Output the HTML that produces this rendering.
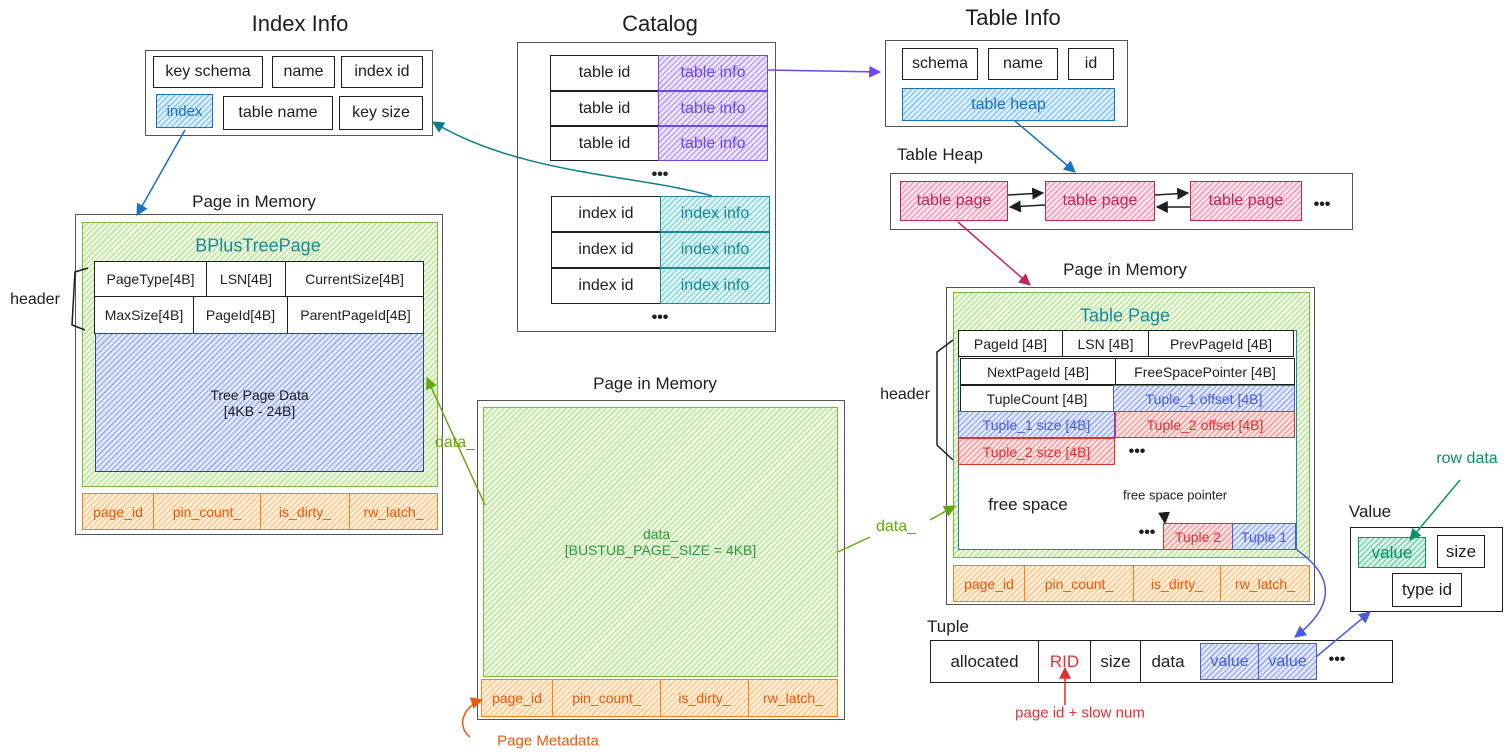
<!DOCTYPE html>
<html><head><meta charset="utf-8"><style>
body{margin:0;width:1512px;height:756px;background:#fff;position:relative;overflow:hidden;font-family:"Liberation Sans",sans-serif;color:#1e1e1e}
.a{position:absolute;box-sizing:border-box;display:flex;align-items:center;justify-content:center;white-space:nowrap;text-align:center}
.b{border:1.6px solid #1e1e1e;background:#fff;font-size:16px}
.fr{border:1.4px solid #555;background:transparent}
.t{position:absolute;white-space:nowrap;transform:translate(-50%,-50%);font-size:16px}
.h{font-size:22px}
.g{background:repeating-linear-gradient(-45deg,#c0e4a0 0 1.5px,#eef8e4 1.5px 4px);border:1.8px solid #7ab640}
.bl{background:repeating-linear-gradient(-45deg,#9db0f0 0 1.5px,#e4eafc 1.5px 4px);border:1.8px solid #4a5ce0;color:#4a5ce0;font-size:14px}
.pu{background:repeating-linear-gradient(-45deg,#b9a4f2 0 1.5px,#ede6fd 1.5px 4px);border:1.8px solid #7048e8;color:#7048e8;font-size:16px}
.te{background:repeating-linear-gradient(-45deg,#8ed8dc 0 1.5px,#e0f6f7 1.5px 4px);border:1.8px solid #1a8a9a;color:#1a8a9a;font-size:16px}
.lb{background:repeating-linear-gradient(-45deg,#8cc8f8 0 1.5px,#dff0fe 1.5px 4px);border:1.8px solid #1971c2;color:#1971c2;font-size:16px}
.pk{background:repeating-linear-gradient(-45deg,#f2a0bc 0 1.5px,#fde4ec 1.5px 4px);border:1.8px solid #c2255c;color:#c2255c;font-size:16px}
.or{background:repeating-linear-gradient(-45deg,#ffc890 0 1.5px,#fff0dc 1.5px 4px);border:1.8px solid #fd7e14;color:#e8590c;font-size:14px}
.rd{background:repeating-linear-gradient(-45deg,#f4a0a0 0 1.5px,#fde4e4 1.5px 4px);border:1.8px solid #e03131;color:#e03131;font-size:14px}
.vg{background:repeating-linear-gradient(-45deg,#80d4b0 0 1.5px,#dcf4ea 1.5px 4px);border:1.8px solid #099268;color:#099268;font-size:17px}
.s{font-size:14px}
</style></head><body>

<!-- Index Info -->
<div class="t h" style="left:300px;top:24px">Index Info</div>
<div class="a fr" style="left:145px;top:50px;width:288px;height:86px"></div>
<div class="a b" style="left:153px;top:56px;width:110px;height:32px">key schema</div>
<div class="a b" style="left:272px;top:56px;width:63px;height:32px">name</div>
<div class="a b" style="left:341px;top:56px;width:82px;height:32px">index id</div>
<div class="a lb" style="left:156px;top:94px;width:57px;height:34px;font-size:15px">index</div>
<div class="a b" style="left:223px;top:96px;width:110px;height:34px">table name</div>
<div class="a b" style="left:339px;top:96px;width:84px;height:34px">key size</div>

<!-- Catalog -->
<div class="t h" style="left:660px;top:24px">Catalog</div>
<div class="a fr" style="left:517px;top:42px;width:259px;height:290px"></div>
<div class="a b" style="left:550px;top:55px;width:109px;height:36px">table id</div>
<div class="a pu" style="left:658px;top:55px;width:110px;height:36px">table info</div>
<div class="a b" style="left:550px;top:91px;width:109px;height:35px">table id</div>
<div class="a pu" style="left:658px;top:91px;width:110px;height:35px">table info</div>
<div class="a b" style="left:550px;top:126px;width:109px;height:35px">table id</div>
<div class="a pu" style="left:658px;top:126px;width:110px;height:35px">table info</div>
<div class="t" style="left:660px;top:175px;font-weight:bold">•••</div>
<div class="a b" style="left:551px;top:196px;width:110px;height:36px">index id</div>
<div class="a te" style="left:660px;top:196px;width:110px;height:36px">index info</div>
<div class="a b" style="left:551px;top:232px;width:110px;height:36px">index id</div>
<div class="a te" style="left:660px;top:232px;width:110px;height:36px">index info</div>
<div class="a b" style="left:551px;top:268px;width:110px;height:36px">index id</div>
<div class="a te" style="left:660px;top:268px;width:110px;height:36px">index info</div>
<div class="t" style="left:660px;top:318px;font-weight:bold">•••</div>

<!-- Table Info -->
<div class="t h" style="left:1013px;top:18px">Table Info</div>
<div class="a fr" style="left:885px;top:40px;width:243px;height:87px"></div>
<div class="a b" style="left:902px;top:48px;width:76px;height:32px">schema</div>
<div class="a b" style="left:988px;top:48px;width:70px;height:32px">name</div>
<div class="a b" style="left:1068px;top:48px;width:46px;height:32px">id</div>
<div class="a lb" style="left:902px;top:88px;width:213px;height:33px">table heap</div>

<!-- Table Heap -->
<div class="t" style="left:940px;top:155px;font-size:17px">Table Heap</div>
<div class="a fr" style="left:890px;top:173px;width:463px;height:57px"></div>
<div class="a pk" style="left:900px;top:181px;width:108px;height:40px">table page</div>
<div class="a pk" style="left:1045px;top:181px;width:110px;height:40px">table page</div>
<div class="a pk" style="left:1190px;top:181px;width:112px;height:40px">table page</div>
<div class="t" style="left:1322px;top:205px;font-weight:bold">•••</div>

<!-- Left page in memory -->
<div class="t" style="left:254px;top:202px;font-size:17px">Page in Memory</div>
<div class="a fr" style="left:75px;top:214px;width:368px;height:321px"></div>
<div class="a g" style="left:82px;top:222px;width:356px;height:265px"></div>
<div class="t" style="left:258px;top:246px;font-size:18px;color:#1a8a9a">BPlusTreePage</div>
<div class="a b s" style="left:94px;top:261px;width:113px;height:36px">PageType[4B]</div>
<div class="a b s" style="left:206px;top:261px;width:80px;height:36px">LSN[4B]</div>
<div class="a b s" style="left:285px;top:261px;width:139px;height:36px">CurrentSize[4B]</div>
<div class="a b s" style="left:94px;top:296px;width:100px;height:38px">MaxSize[4B]</div>
<div class="a b s" style="left:193px;top:296px;width:95px;height:38px">PageId[4B]</div>
<div class="a b s" style="left:287px;top:296px;width:137px;height:38px">ParentPageId[4B]</div>
<div class="a bl" style="left:95px;top:333px;width:329px;height:139px;border-color:#2a4d6e;color:#1e1e1e;flex-direction:column;font-size:14px">Tree Page Data<br>[4KB - 24B]</div>
<div class="a or" style="left:82px;top:493px;width:72px;height:37px">page_id</div>
<div class="a or" style="left:153px;top:493px;width:108px;height:37px">pin_count_</div>
<div class="a or" style="left:260px;top:493px;width:90px;height:37px">is_dirty_</div>
<div class="a or" style="left:349px;top:493px;width:89px;height:37px">rw_latch_</div>
<div class="t" style="left:35px;top:300px;font-size:16px">header</div>

<!-- Middle page -->
<div class="t" style="left:655px;top:384px;font-size:17px">Page in Memory</div>
<div class="a fr" style="left:477px;top:400px;width:368px;height:320px"></div>
<div class="a g" style="left:483px;top:407px;width:355px;height:270px;color:#2e9a40;font-size:14px;flex-direction:column">data_<br>[BUSTUB_PAGE_SIZE = 4KB]</div>
<div class="a or" style="left:481px;top:679px;width:72px;height:38px">page_id</div>
<div class="a or" style="left:552px;top:679px;width:109px;height:38px">pin_count_</div>
<div class="a or" style="left:660px;top:679px;width:89px;height:38px">is_dirty_</div>
<div class="a or" style="left:748px;top:679px;width:90px;height:38px">rw_latch_</div>
<div class="t" style="left:548px;top:741px;color:#e8590c;font-size:15px">Page Metadata</div>
<div class="t" style="left:455px;top:443px;color:#66a80f;font-size:16px">data_</div>
<div class="t" style="left:896px;top:527px;color:#66a80f;font-size:16px">data_</div>

<!-- Right page -->
<div class="t" style="left:1125px;top:270px;font-size:17px">Page in Memory</div>
<div class="a fr" style="left:946px;top:287px;width:369px;height:318px"></div>
<div class="a g" style="left:953px;top:292px;width:357px;height:266px"></div>
<div class="t" style="left:1125px;top:316px;font-size:18px;color:#1a8a9a">Table Page</div>
<div class="a" style="left:958px;top:330px;width:339px;height:220px;background:#fff;border:1.6px solid #1a8a9a"></div>
<div class="a b s" style="left:958px;top:330px;width:105px;height:27px">PageId [4B]</div>
<div class="a b s" style="left:1062px;top:330px;width:87px;height:27px">LSN [4B]</div>
<div class="a b s" style="left:1148px;top:330px;width:146px;height:27px">PrevPageId [4B]</div>
<div class="a b s" style="left:960px;top:358px;width:156px;height:27px">NextPageId [4B]</div>
<div class="a b s" style="left:1115px;top:358px;width:180px;height:27px">FreeSpacePointer [4B]</div>
<div class="a b s" style="left:960px;top:385px;width:154px;height:27px">TupleCount [4B]</div>
<div class="a bl" style="left:1113px;top:385px;width:182px;height:27px">Tuple_1 offset [4B]</div>
<div class="a bl" style="left:958px;top:411px;width:157px;height:27px">Tuple_1 size [4B]</div>
<div class="a rd" style="left:1115px;top:411px;width:180px;height:27px">Tuple_2 offset [4B]</div>
<div class="a rd" style="left:958px;top:438px;width:157px;height:27px">Tuple_2 size [4B]</div>
<div class="t" style="left:1137px;top:452px;font-weight:bold">•••</div>
<div class="t" style="left:1028px;top:505px;font-size:17px">free space</div>
<div class="t" style="left:1175px;top:495px;font-size:13px">free space pointer</div>
<div class="t" style="left:1147px;top:533px;font-weight:bold">•••</div>
<div class="a rd" style="left:1163px;top:523px;width:70px;height:27px">Tuple 2</div>
<div class="a bl" style="left:1232px;top:523px;width:64px;height:27px">Tuple 1</div>
<div class="a or" style="left:953px;top:565px;width:72px;height:37px">page_id</div>
<div class="a or" style="left:1024px;top:565px;width:110px;height:37px">pin_count_</div>
<div class="a or" style="left:1133px;top:565px;width:88px;height:37px">is_dirty_</div>
<div class="a or" style="left:1220px;top:565px;width:90px;height:37px">rw_latch_</div>
<div class="t" style="left:905px;top:395px;font-size:16px">header</div>

<!-- Tuple -->
<div class="t" style="left:948px;top:627px;font-size:17px">Tuple</div>
<div class="a b" style="left:930px;top:640px;width:463px;height:43px"></div>
<div class="a b" style="left:930px;top:640px;width:109px;height:43px;font-size:17px">allocated</div>
<div class="a b" style="left:1038px;top:640px;width:53px;height:43px;color:#e03131;font-size:17px">RID</div>
<div class="a b" style="left:1090px;top:640px;width:51px;height:43px;font-size:17px">size</div>
<div class="t" style="left:1168px;top:662px;font-size:17px">data</div>
<div class="a bl" style="left:1200px;top:643px;width:59px;height:37px;font-size:16px">value</div>
<div class="a bl" style="left:1258px;top:643px;width:59px;height:37px;font-size:16px">value</div>
<div class="t" style="left:1337px;top:660px;font-weight:bold">•••</div>
<div class="t" style="left:1080px;top:713px;color:#e03131;font-size:15px">page id + slow num</div>

<!-- Value -->
<div class="t" style="left:1370px;top:512px;font-size:17px">Value</div>
<div class="a fr" style="left:1350px;top:527px;width:153px;height:85px;border-color:#1e1e1e"></div>
<div class="a vg" style="left:1358px;top:537px;width:68px;height:31px">value</div>
<div class="a b" style="left:1437px;top:535px;width:48px;height:33px;font-size:17px">size</div>
<div class="a b" style="left:1392px;top:573px;width:70px;height:34px;font-size:17px">type id</div>
<div class="t" style="left:1467px;top:459px;color:#099268;font-size:16px">row data</div>

<svg style="position:absolute;left:0;top:0" width="1512" height="756" fill="none" stroke-width="1.5">
<defs>
<marker id="m" viewBox="0 0 10 10" refX="9" refY="5" markerWidth="8" markerHeight="8" orient="auto-start-reverse"><path d="M0,0L10,5L0,10z" fill="context-stroke" stroke="none"/></marker>
</defs>
<path d="M185,130 L137,215" stroke="#1971c2" marker-end="url(#m)"/>
<path d="M712,196 C640,175 520,175 433,122" stroke="#0c7d8a" marker-end="url(#m)"/>
<path d="M768,70 L880,72" stroke="#7048e8" marker-end="url(#m)"/>
<path d="M1015,121 L1075,172" stroke="#1971c2" marker-end="url(#m)"/>
<path d="M958,222 L1030,285" stroke="#c2255c" marker-end="url(#m)"/>
<path d="M1008,195 L1043,193" stroke="#1e1e1e" marker-end="url(#m)"/>
<path d="M1045,205 L1010,207" stroke="#1e1e1e" marker-end="url(#m)"/>
<path d="M1155,195 L1188,193" stroke="#1e1e1e" marker-end="url(#m)"/>
<path d="M1190,207 L1157,207" stroke="#1e1e1e" marker-end="url(#m)"/>
<path d="M485,505 L427,378" stroke="#66a80f" marker-end="url(#m)"/>
<path d="M838,552 L870,537" stroke="#66a80f"/>
<path d="M930,520 L955,506" stroke="#66a80f" marker-end="url(#m)"/>
<path d="M470,737 C455,725 465,705 482,700" stroke="#e8590c" marker-end="url(#m)"/>
<path d="M1297,550 C1340,580 1330,610 1295,637" stroke="#4a5ce0" marker-end="url(#m)"/>
<path d="M1316,657 L1370,612" stroke="#4a5ce0" marker-end="url(#m)"/>
<path d="M1460,480 L1410,540" stroke="#099268" marker-end="url(#m)"/>
<path d="M1065,705 L1065,668" stroke="#e03131" marker-end="url(#m)"/>
<path d="M1164,512 L1165,523" stroke="#1e1e1e" marker-end="url(#m)"/>
<path d="M88,268 L75,272 L72,325 L85,330" stroke="#1e1e1e"/>
<path d="M953,340 L937,352 L937,445 L953,460" stroke="#1e1e1e"/>
</svg>
</body></html>
